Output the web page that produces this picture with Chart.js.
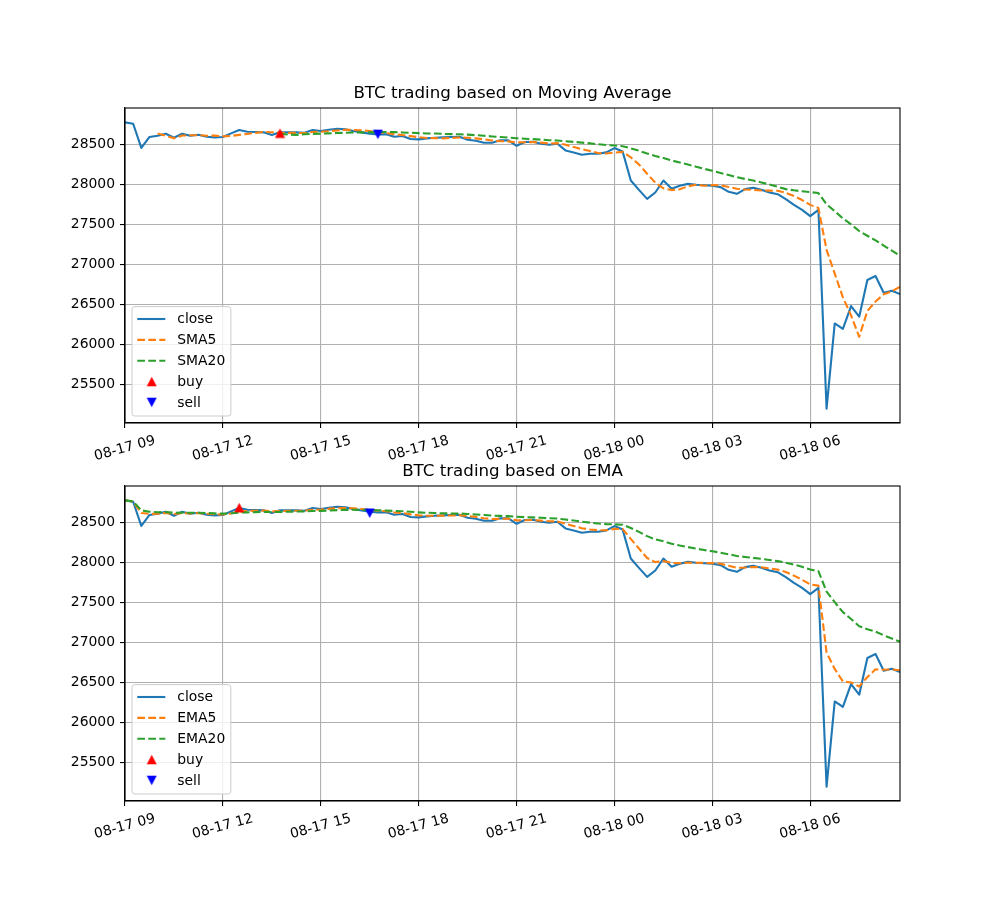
<!DOCTYPE html>
<html>
<head>
<meta charset="utf-8">
<script src="https://cdn.jsdelivr.net/npm/chart.js@4.4.1/dist/chart.umd.min.js"></script>
<style>
  html, body { margin: 0; padding: 0; background: #fff; }
  body { width: 1000px; height: 900px; position: relative; overflow: hidden; }
  canvas { position: absolute; left: 0; }
  #maChart { top: 0; }
  #emaChart { top: 460px; }
</style>
</head>
<body>
<canvas id="maChart" width="1000" height="470"></canvas>
<canvas id="emaChart" width="1000" height="440"></canvas>
<script>
// 15 minute bars, 08-17 09:00 .. 08-18 08:45 (x = bar index)
const close = [28780, 28763, 28460, 28597, 28613, 28638, 28588, 28638, 28613, 28625,
  28600, 28592, 28596, 28642, 28684, 28663, 28659, 28655, 28622, 28655,
  28655, 28655, 28650, 28684, 28672, 28688, 28700, 28692, 28672, 28655,
  28638, 28630, 28630, 28600, 28609, 28571, 28567, 28580, 28588, 28592,
  28596, 28600, 28563, 28550, 28525, 28525, 28555, 28555, 28487, 28535,
  28538, 28513, 28500, 28513, 28429, 28404, 28375, 28387, 28387, 28404,
  28458, 28416, 28052, 27935, 27822, 27902, 28052, 27948, 27985, 28010,
  27998, 27992, 27987, 27969, 27910, 27885, 27944, 27960, 27935, 27902,
  27881, 27819, 27747, 27684, 27605, 27684, 25195, 26262, 26195, 26479,
  26346, 26806, 26856, 26647, 26672, 26630];

const sma5 = [null, null, null, null, 28641, 28613, 28580, 28615, 28618, 28620,
  28613, 28614, 28605, 28611, 28623, 28635, 28649, 28661, 28657, 28651,
  28649, 28648, 28647, 28660, 28663, 28670, 28679, 28687, 28685, 28681,
  28671, 28657, 28645, 28631, 28621, 28608, 28595, 28585, 28583, 28580,
  28585, 28591, 28588, 28580, 28567, 28553, 28544, 28542, 28529, 28531,
  28534, 28526, 28515, 28520, 28499, 28472, 28444, 28422, 28396, 28391,
  28402, 28410, 28343, 28253, 28137, 28025, 27953, 27932, 27942, 27979,
  27999, 27987, 27994, 27991, 27971, 27949, 27939, 27934, 27927, 27925,
  27924, 27899, 27857, 27807, 27747, 27708, 27183, 26886, 26588, 26363,
  26095, 26418, 26536, 26627, 26665, 26722];

const sma20 = [null, null, null, null, null, null, null, null, null, null,
  null, null, null, null, null, null, null, null, null, 28634,
  28628, 28623, 28632, 28636, 28639, 28642, 28647, 28650, 28653, 28655,
  28656, 28658, 28660, 28658, 28654, 28650, 28645, 28641, 28640, 28636,
  28633, 28631, 28626, 28620, 28612, 28604, 28597, 28590, 28581, 28575,
  28570, 28564, 28557, 28553, 28544, 28536, 28526, 28517, 28506, 28497,
  28490, 28481, 28455, 28425, 28390, 28358, 28333, 28303, 28278, 28252,
  28225, 28198, 28173, 28146, 28120, 28094, 28072, 28051, 28028, 28003,
  27974, 27944, 27929, 27917, 27906, 27895, 27752, 27668, 27578, 27502,
  27419, 27360, 27303, 27237, 27175, 27112];

const ema5 = [28780, 28765, 28621, 28611, 28612, 28621, 28610, 28619, 28617, 28620,
  28613, 28606, 28603, 28616, 28639, 28647, 28651, 28652, 28642, 28646,
  28649, 28651, 28651, 28662, 28665, 28673, 28682, 28685, 28681, 28672,
  28661, 28651, 28644, 28629, 28622, 28605, 28592, 28588, 28588, 28589,
  28591, 28594, 28584, 28573, 28557, 28546, 28549, 28551, 28530, 28532,
  28534, 28527, 28518, 28516, 28487, 28459, 28431, 28416, 28406, 28405,
  28423, 28421, 28298, 28177, 28059, 28007, 28022, 27997, 27993, 27999,
  27999, 27997, 27994, 27986, 27961, 27936, 27939, 27946, 27942, 27929,
  27913, 27882, 27837, 27786, 27726, 27712, 26873, 26669, 26511, 26500,
  26449, 26568, 26664, 26658, 26663, 26652];

const ema20 = [28780, 28767, 28655, 28638, 28632, 28633, 28625, 28627, 28625, 28625,
  28621, 28617, 28614, 28618, 28626, 28630, 28633, 28636, 28634, 28636,
  28638, 28640, 28641, 28646, 28649, 28653, 28658, 28661, 28662, 28661,
  28659, 28656, 28653, 28648, 28644, 28637, 28630, 28625, 28621, 28618,
  28616, 28615, 28610, 28604, 28596, 28589, 28586, 28583, 28574, 28570,
  28567, 28562, 28556, 28552, 28540, 28527, 28513, 28501, 28490, 28482,
  28480, 28474, 28434, 28386, 28332, 28291, 28268, 28238, 28214, 28195,
  28176, 28158, 28142, 28125, 28105, 28084, 28071, 28060, 28048, 28034,
  28019, 28000, 27976, 27948, 27915, 27893, 27636, 27505, 27380, 27294,
  27204, 27166, 27137, 27090, 27050, 27010];

// trade signals (bar index, price)
const maBuyIdx = [19], maBuyPrice = [28645];
const maSellIdx = [31], maSellPrice = [28630];
const emaBuyIdx = [14], emaBuyPrice = [28690];
const emaSellIdx = [30], emaSellPrice = [28620];

const xTickIdx = [0, 12, 24, 36, 48, 60, 72, 84];
const xTickLabels = ['08-17 09', '08-17 12', '08-17 15', '08-17 18', '08-17 21', '08-18 00', '08-18 03', '08-18 06'];
const yTicks = [25500, 26000, 26500, 27000, 27500, 28000, 28500];

const FONT = 'DejaVu Sans';
Chart.defaults.font.family = FONT;
Chart.defaults.color = '#000';

function pts(arr) {
    return arr.map((v, i) => ({ x: i, y: v }));
}

function marks(idx, price) {
    return idx.map((x, k) => ({ x: x, y: price[k] }));
}

// matplotlib-like triangle marker (as wide as it is tall)
function triangle(color, down) {
    const c = document.createElement('canvas');
    c.width = 11; c.height = 11;
    const g = c.getContext('2d');
    g.fillStyle = color;
    g.beginPath();
    if (down) {
        g.moveTo(0.5, 0.8); g.lineTo(10.5, 0.8); g.lineTo(5.5, 10.2);
    } else {
        g.moveTo(5.5, 0.8); g.lineTo(10.5, 10.2); g.lineTo(0.5, 10.2);
    }
    g.closePath();
    g.fill();
    return c;
}

function lineSet(label, data, color, dashed, order) {
    return {
        type: 'line', label: label, data: pts(data),
        borderColor: color, backgroundColor: color, borderWidth: 2.1,
        borderDash: dashed ? [7.7, 3.3] : [], borderJoinStyle: 'round',
        pointRadius: 0, fill: false, tension: 0, order: order
    };
}

function markSet(label, data, color, down, order) {
    return {
        type: 'scatter', label: label, data: data,
        pointStyle: triangle(color, down), pointRadius: 5,
        backgroundColor: color, borderColor: color, borderWidth: 0, order: order
    };
}

// top/right spines
const frame = {
    id: 'frame',
    afterDatasetsDraw(chart) {
        const { ctx, chartArea: a } = chart;
        ctx.save();
        ctx.strokeStyle = '#000';
        ctx.lineWidth = 1.1;
        ctx.strokeRect(a.left, a.top, a.width, a.height);
        ctx.restore();
    }
};

// matplotlib style legend, lower left inside the axes
const boxLegend = {
    id: 'boxLegend',
    afterDraw(chart) {
        const { ctx, chartArea: a } = chart;
        const items = chart.data.datasets;
        const row = 20.85;
        ctx.save();
        ctx.font = '13.9px "' + FONT + '"';
        const textW = Math.max(...items.map(d => ctx.measureText(d.label).width));
        const w = 45.3 + textW + 5.6, h = 109.4;
        const left = a.left + 7, top = a.bottom - 7 - h;
        ctx.beginPath();
        ctx.roundRect(left, top, w, h, 2.8);
        ctx.fillStyle = 'rgba(255,255,255,0.8)';
        ctx.fill();
        ctx.strokeStyle = '#cccccc';
        ctx.lineWidth = 1;
        ctx.stroke();
        items.forEach((d, i) => {
            const y = top + 12.4 + i * row;
            if (d.type === 'scatter') {
                ctx.drawImage(d.pointStyle, left + 19.7 - 5.5, y - 5.5);
            } else {
                ctx.beginPath();
                ctx.setLineDash(d.borderDash);
                ctx.strokeStyle = d.borderColor;
                ctx.lineWidth = d.borderWidth;
                ctx.moveTo(left + 5.3, y);
                ctx.lineTo(left + 33.3, y);
                ctx.stroke();
                ctx.setLineDash([]);
            }
            ctx.fillStyle = '#000';
            ctx.textBaseline = 'middle';
            ctx.textAlign = 'left';
            ctx.fillText(d.label, left + 45.3, y + 0.8);
        });
        ctx.restore();
    }
};

function axisGrid() {
    return { color: '#b0b0b0', lineWidth: 1.1, tickColor: '#000', tickLength: 5, tickWidth: 1.1, drawTicks: true };
}

function makeChart(id, title, datasets, titleTop, xAxisHeight) {
    const ctx = document.getElementById(id).getContext('2d');
    return new Chart(ctx, {
        type: 'line',
        data: { datasets: datasets },
        plugins: [frame, boxLegend],
        options: {
            responsive: false,
            animation: false,
            devicePixelRatio: 1,
            layout: { padding: { left: 0, right: 100, top: 0, bottom: 0 } },
            plugins: {
                legend: { display: false },
                tooltip: { enabled: false },
                title: {
                    display: true, text: title, fullSize: false, color: '#000',
                    font: { size: 16.67, weight: 'normal', family: FONT },
                    padding: { top: titleTop, bottom: 4 }
                }
            },
            scales: {
                x: {
                    type: 'linear', min: 0, max: 95,
                    afterBuildTicks: s => { s.ticks = xTickIdx.map(v => ({ value: v })); },
                    afterFit: s => { s.height = xAxisHeight; },
                    ticks: {
                        autoSkip: false, minRotation: 15, maxRotation: 15,
                        padding: 4.5, labelOffset: 30, font: { size: 13.9 },
                        callback: (v, i) => xTickLabels[i]
                    },
                    grid: axisGrid(),
                    border: { color: '#000', width: 1.1 }
                },
                y: {
                    min: 25015, max: 28960,
                    afterBuildTicks: s => { s.ticks = yTicks.map(v => ({ value: v })); },
                    afterFit: s => { s.width = 125; },
                    ticks: { padding: 5, font: { size: 13.9 }, callback: v => String(v) },
                    grid: axisGrid(),
                    border: { color: '#000', width: 1.1 }
                }
            }
        }
    });
}

makeChart('maChart', 'BTC trading based on Moving Average', [
    lineSet('close', close, '#1f77b4', false, 5),
    lineSet('SMA5', sma5, '#ff7f0e', true, 4),
    lineSet('SMA20', sma20, '#2ca02c', true, 3),
    markSet('buy', marks(maBuyIdx, maBuyPrice), '#ff0000', false, 2),
    markSet('sell', marks(maSellIdx, maSellPrice), '#0000ff', true, 1)
], 84, 47);

makeChart('emaChart', 'BTC trading based on EMA', [
    lineSet('close', close, '#1f77b4', false, 5),
    lineSet('EMA5', ema5, '#ff7f0e', true, 4),
    lineSet('EMA20', ema20, '#2ca02c', true, 3),
    markSet('buy', marks(emaBuyIdx, emaBuyPrice), '#ff0000', false, 2),
    markSet('sell', marks(emaSellIdx, emaSellPrice), '#0000ff', true, 1)
], 2, 99);
</script>
</body>
</html>
